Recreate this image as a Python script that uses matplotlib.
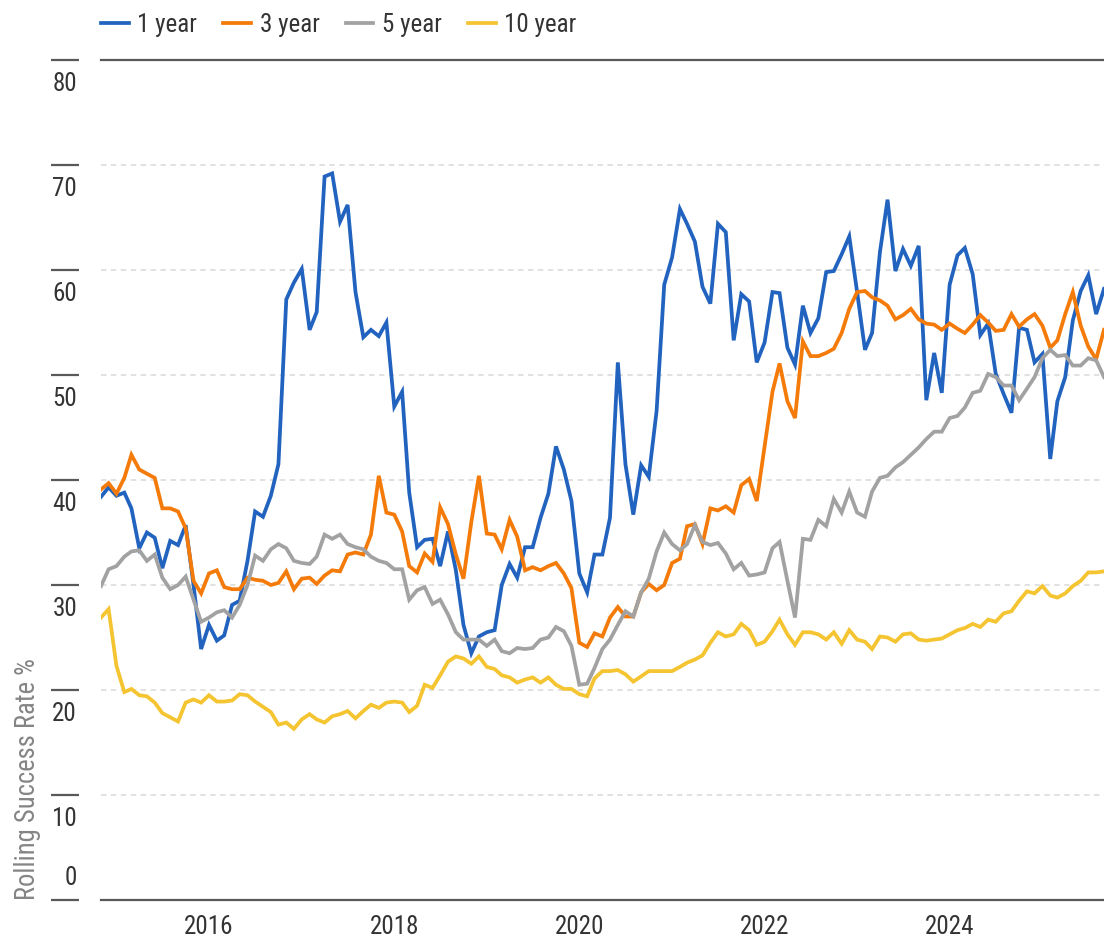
import matplotlib
matplotlib.use("Agg")
import matplotlib.pyplot as plt
import matplotlib.transforms as mtransforms
from matplotlib import font_manager as fm
import pandas as pd


# look for a narrow sans, the chart uses a condensed face
def pick_font():
    fl = fm.fontManager.ttflist
    names = {f.name for f in fl}
    for p in ['Liberation Sans Narrow', 'Roboto Condensed',
              'Open Sans Condensed', 'Noto Sans Condensed',
              'DejaVu Sans Condensed']:
        if p in names:
            return p, 'normal', True
    for f in fl:
        st = f.stretch
        if st in ('condensed', 'semi-condensed') or \
                (isinstance(st, int) and st < 500):
            return f.name, st, True
    return 'DejaVu Sans', 'normal', False


fam, stretch, narrow = pick_font()
plt.rcParams['font.family'] = [fam, 'DejaVu Sans']
plt.rcParams['font.stretch'] = stretch
fs = 18 if narrow else 15.5

# monthly rolling success rates, Nov 2014 - Sep 2025
dates = pd.date_range('2014-11-01', periods=131, freq='MS')

one_year = [
    38.4, 39.3, 38.5, 38.8, 37.3, 33.5, 35.0, 34.5, 31.6, 34.2,
    33.8, 35.7, 30.0, 23.9, 26.2, 24.7, 25.2, 28.1, 28.5, 32.3,
    37.0, 36.5, 38.5, 41.5, 57.2, 58.8, 60.1, 54.3, 56.0, 68.9,
    69.2, 64.6, 66.2, 57.9, 53.6, 54.3, 53.7, 55.0, 47.0, 48.4,
    38.8, 33.6, 34.3, 34.4, 31.8, 35.1, 31.4, 26.2, 23.5, 25.1,
    25.5, 25.7, 30.0, 32.0, 30.7, 33.6, 33.6, 36.4, 38.7, 43.2,
    41.0, 38.0, 31.1, 29.3, 32.9, 32.9, 36.4, 51.2, 41.5, 36.7,
    41.4, 40.3, 46.6, 58.6, 61.2, 65.8, 64.4, 62.7, 58.4, 56.8,
    64.4, 63.6, 53.3, 57.7, 57.0, 51.2, 53.1, 57.9, 57.8, 52.6,
    51.0, 56.6, 54.0, 55.4, 59.8, 59.9, 61.5, 63.2, 57.9, 52.4,
    54.0, 61.7, 66.7, 59.9, 62.0, 60.4, 62.3, 47.6, 52.1, 48.3,
    58.6, 61.4, 62.1, 59.6, 53.8, 54.9, 50.1, 48.2, 46.4, 54.5,
    54.3, 51.2, 52.0, 42.0, 47.5, 49.8, 55.2, 58.0, 59.5, 55.8,
    58.2]

three_year = [
    39.1, 39.7, 38.7, 40.2, 42.4, 41.0, 40.6, 40.2, 37.3, 37.3,
    37.0, 35.4, 30.4, 29.2, 31.1, 31.4, 29.8, 29.6, 29.6, 30.7,
    30.5, 30.4, 30.0, 30.2, 31.3, 29.6, 30.6, 30.7, 30.1, 30.9,
    31.4, 31.3, 32.9, 33.1, 32.9, 34.8, 40.4, 36.9, 36.7, 35.1,
    31.8, 31.2, 33.0, 32.2, 37.4, 35.8, 32.9, 30.6, 36.0, 40.4,
    34.9, 34.8, 33.4, 36.2, 34.6, 31.4, 31.7, 31.4, 31.8, 32.1,
    31.1, 29.7, 24.5, 24.1, 25.4, 25.1, 26.9, 27.9, 27.0, 27.0,
    29.3, 30.1, 29.5, 30.0, 32.1, 32.5, 35.6, 35.8, 33.9, 37.3,
    37.1, 37.5, 36.9, 39.5, 40.1, 38.0, 43.2, 48.4, 51.1, 47.5,
    45.9, 53.2, 51.8, 51.8, 52.1, 52.5, 54.0, 56.3, 57.9, 58.0,
    57.4, 57.1, 56.6, 55.3, 55.7, 56.3, 55.3, 54.9, 54.8, 54.3,
    54.9, 54.4, 54.0, 54.8, 55.7, 55.0, 54.2, 54.3, 55.8, 54.6,
    55.3, 55.8, 54.7, 52.6, 53.3, 55.8, 57.9, 54.7, 52.7, 51.5,
    54.3]

five_year = [
    29.9, 31.5, 31.8, 32.7, 33.2, 33.3, 32.3, 32.9, 30.7, 29.6,
    30.0, 30.8, 28.6, 26.5, 26.9, 27.4, 27.6, 26.9, 28.1, 30.0,
    32.8, 32.3, 33.4, 33.9, 33.5, 32.3, 32.1, 32.0, 32.7, 34.8,
    34.4, 34.8, 33.9, 33.6, 33.4, 32.7, 32.3, 32.1, 31.5, 31.5,
    28.6, 29.5, 29.8, 28.2, 28.6, 27.2, 25.5, 24.8, 24.8, 24.8,
    24.2, 24.8, 23.7, 23.5, 24.0, 23.9, 24.0, 24.8, 25.0, 26.0,
    25.6, 24.2, 20.5, 20.6, 22.1, 23.9, 24.8, 26.2, 27.5, 27.0,
    29.3, 30.6, 33.2, 35.0, 33.9, 33.3, 33.9, 35.7, 34.1, 33.8,
    34.0, 33.0, 31.5, 32.1, 30.9, 31.0, 31.2, 33.5, 34.1, 30.4,
    26.9, 34.4, 34.3, 36.2, 35.6, 38.2, 36.9, 38.9, 36.9, 36.5,
    38.9, 40.2, 40.4, 41.2, 41.7, 42.4, 43.1, 43.9, 44.6, 44.6,
    45.9, 46.1, 46.9, 48.3, 48.5, 50.1, 49.8, 49.0, 49.0, 47.6,
    48.7, 49.8, 51.6, 52.4, 51.8, 51.9, 50.9, 50.9, 51.6, 51.4,
    49.8]

ten_year = [
    26.9, 27.7, 22.3, 19.8, 20.1, 19.5, 19.4, 18.8, 17.8, 17.4,
    17.0, 18.8, 19.1, 18.8, 19.5, 18.9, 18.9, 19.0, 19.6, 19.5,
    18.9, 18.4, 17.9, 16.7, 16.9, 16.3, 17.2, 17.7, 17.2, 16.9,
    17.5, 17.7, 18.0, 17.3, 18.0, 18.6, 18.3, 18.8, 18.9, 18.8,
    17.9, 18.5, 20.5, 20.2, 21.4, 22.7, 23.2, 23.0, 22.5, 23.2,
    22.2, 22.0, 21.4, 21.2, 20.7, 21.0, 21.2, 20.7, 21.2, 20.5,
    20.1, 20.1, 19.6, 19.4, 21.1, 21.8, 21.8, 21.9, 21.5, 20.8,
    21.3, 21.8, 21.8, 21.8, 21.8, 22.2, 22.6, 22.9, 23.3, 24.5,
    25.5, 25.1, 25.3, 26.3, 25.7, 24.3, 24.6, 25.6, 26.7, 25.3,
    24.3, 25.5, 25.5, 25.3, 24.8, 25.5, 24.4, 25.7, 24.8, 24.6,
    23.9, 25.1, 25.0, 24.6, 25.3, 25.4, 24.8, 24.7, 24.8, 24.9,
    25.3, 25.7, 25.9, 26.3, 26.0, 26.7, 26.5, 27.3, 27.5, 28.5,
    29.4, 29.2, 29.9, 29.0, 28.8, 29.2, 29.9, 30.4, 31.2, 31.2,
    31.3]

series = [('1 year', one_year, '#2163BE'),
          ('3 year', three_year, '#F47B0A'),
          ('5 year', five_year, '#A2A2A2'),
          ('10 year', ten_year, '#F5C431')]

year_ticks = pd.to_datetime(['2016-01-01', '2018-01-01', '2020-01-01',
                             '2022-01-01', '2024-01-01'])
year_labels = ['2016', '2018', '2020', '2022', '2024']
y_ticks = [0, 10, 20, 30, 40, 50, 60, 70, 80]

W, H = 1104, 939
fig = plt.figure(figsize=(W / 100, H / 100), dpi=100)
ax = fig.add_axes([101 / W, 39 / H, 1003 / W, 840 / H])

for name, vals, col in series:
    ax.plot(dates, vals, color=col, lw=2.7, label=name,
            solid_joinstyle='miter', zorder=3)

ax.set_xlim(dates[0], dates[-1])
ax.set_ylim(0, 80)

# dashed grid
for v in y_ticks[1:-1]:
    ax.axhline(v, color='#D9D9D9', lw=1.1, ls=(0, (3.5, 3)), zorder=1)

for s in ['left', 'right']:
    ax.spines[s].set_visible(False)
for s in ['top', 'bottom']:
    ax.spines[s].set_color('#595959')
    ax.spines[s].set_linewidth(1.6)

# y ticks drawn as short bars left of the plot, labels hung below them
# (the 0 label sits above its bar)
ax.set_yticks([])
trans = mtransforms.blended_transform_factory(ax.transAxes, ax.transData)
for v in y_ticks:
    ax.plot([-50 / 1003, -22 / 1003], [v, v], color='#595959', lw=1.6,
            transform=trans, clip_on=False, solid_capstyle='butt')
    if v == 0:
        off, va = 10, 'bottom'
    else:
        off, va = -12, 'top'
    ax.annotate(str(v), xy=(-24 / 1003, v), xycoords=trans,
                xytext=(0, off), textcoords='offset pixels',
                ha='right', va=va, fontsize=fs, color='#333333')

ax.set_xticks(year_ticks)
ax.set_xticklabels(year_labels)
ax.tick_params(axis='x', length=0, pad=11, labelsize=fs, labelcolor='#333333')

fig.text(28 / W, 39 / H, 'Rolling Success Rate %', rotation=90,
         ha='center', va='bottom', fontsize=fs + 1.2, color='#858585')

fig.legend(loc='center left', bbox_to_anchor=(101 / W, 1 - 25 / H),
           ncol=4, frameon=False, fontsize=fs, handlelength=1.1,
           handletextpad=0.35, columnspacing=1.05, borderpad=0,
           borderaxespad=0, labelcolor='#333333')

fig.savefig('out.png', dpi=100)
